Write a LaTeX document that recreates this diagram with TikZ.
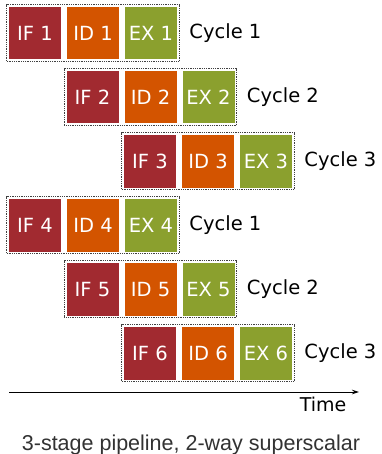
\documentclass[tikz,border=0pt]{standalone}
\usepackage{fontspec}
\setmainfont{DejaVu Sans}
\newfontfamily\capfont{Liberation Sans}
\usetikzlibrary{fit,arrows.meta}
\definecolor{ifred}{RGB}{161,42,48}
\definecolor{idorange}{RGB}{211,84,0}
\definecolor{exgreen}{RGB}{139,160,46}
\definecolor{capgray}{RGB}{50,50,50}
\tikzset{
  stagebox/.style={minimum width=52pt, minimum height=52.5pt, inner sep=0pt, outer sep=0pt,
    text=white, font=\fontsize{19.5}{22}\selectfont, anchor=north west},
  framebox/.style={draw=black!75, line width=1.1pt, dash pattern=on 1pt off 0.8pt, inner sep=2.2pt},
  cyclelabel/.style={font=\fontsize{19.5}{22}\selectfont, anchor=west, inner sep=0pt}
}
\begin{document}
\begin{tikzpicture}[x=1pt,y=-1pt]
\useasboundingbox (0,0) rectangle (381,454);
\foreach \r/\k/\c in {1/0/1, 2/1/2, 3/2/3, 4/0/1, 5/1/2, 6/2/3}{
  \pgfmathsetmacro{\L}{9+57.5*\k}
  \pgfmathsetmacro{\T}{7+64*(\r-1)}
  \node[stagebox, fill=ifred] (if\r) at (\L,\T) {IF \r};
  \node[stagebox, fill=idorange] (id\r) at (\L+58,\T) {ID \r};
  \node[stagebox, fill=exgreen] (ex\r) at (\L+116,\T) {EX \r};
  \node[framebox, fit=(if\r)(ex\r)] (fr\r) {};
  \node[cyclelabel] (cy\r) at ([xshift=9.5pt]fr\r.east) {Cycle \c};
}
\coordinate (t0) at (9,392);
\coordinate (t1) at (359,392);
\draw[line width=0.9pt, -{Stealth[length=7pt,width=4.5pt]}] (t0) -- (t1);
\node[font=\fontsize{19}{22}\selectfont, anchor=base, inner sep=0pt] (time) at (323,411) {Time};
\node[font=\capfont\fontsize{21.5}{24}\selectfont, text=capgray, anchor=base, inner sep=0pt] (cap) at (191,450) {3-stage pipeline, 2-way superscalar};
\end{tikzpicture}
\end{document}
